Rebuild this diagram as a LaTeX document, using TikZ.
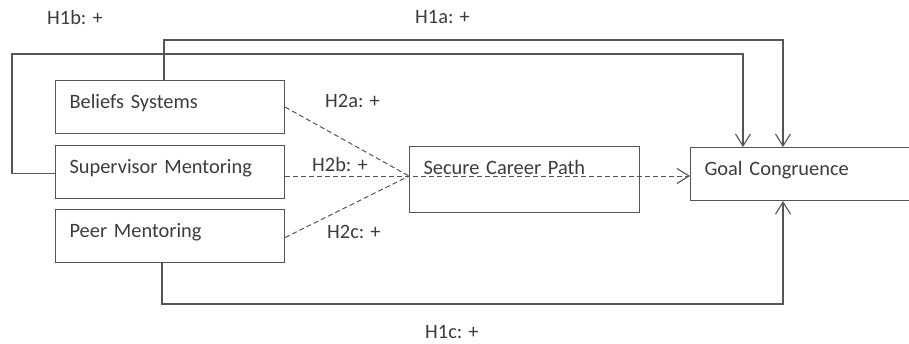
\documentclass[tikz,border=0pt]{standalone}
\usepackage{fontspec}
\setmainfont{Carlito}
\usetikzlibrary{arrows.meta,calc}
\definecolor{linegray}{RGB}{85,85,85}
\definecolor{textgray}{RGB}{60,60,60}
\tikzset{
  box/.style={draw=linegray, line width=1.1pt, rectangle, anchor=north west,
    inner xsep=14pt, inner ysep=0pt, text height=28pt, align=left,
    text=textgray, font=\fontsize{20.4}{24}\selectfont},
  tag/.style={anchor=base west, inner sep=0pt, text=textgray,
    font=\fontsize{20.4}{24}\selectfont},
  link/.style={draw=linegray, line width=1.1pt,
    -{Straight Barb[length=12pt,width=15pt,line width=1.1pt]}},
  plainlink/.style={draw=linegray, line width=1.1pt},
  dashlink/.style={draw=linegray, line width=1pt, dash pattern=on 5pt off 3pt},
}
\begin{document}
\begin{tikzpicture}[x=1pt,y=-1pt]
  \useasboundingbox (0,0) rectangle (909,343);
  \clip (0,0) rectangle (909,343);

  % boxes
  \node[box, text width=201pt, text depth=25pt] (bel)  at (55,80)  {Beliefs Systems};
  \node[box, text width=201pt, text depth=25pt] (sup)  at (55,145) {Supervisor Mentoring};
  \node[box, text width=201pt, text depth=25pt] (peer) at (55,209) {Peer Mentoring};
  \node[box, text width=202pt, text depth=38pt] (car)  at (409,146) {Secure Career Path};
  \node[box, text width=212pt, text depth=25pt] (goal) at (690,147) {Goal Congruence};

  % meeting point of the mediated paths
  \coordinate (cv) at ($(car.north west)+(0,30)$);

  % H1a: beliefs -> goal (over the top)
  \coordinate (a1) at ($(bel.north west)+(109,0)$);
  \coordinate (a2) at ($(goal.north west)+(93,0)$);
  \draw[link] (a1) -- (a1 |- 0,40) -- (a2 |- 0,40) -- (a2);

  % H1b: supervisor -> goal (round the left side)
  \coordinate (b1) at ($(sup.west)+(0,1.5)$);
  \coordinate (b2) at ($(goal.north west)+(53,0)$);
  \draw[link] (b1) -- (12,0 |- b1) -- (12,54) -- (b2 |- 0,54) -- (b2);

  % H1c: peer -> goal (underneath)
  \coordinate (c1) at ($(peer.south west)+(107,0)$);
  \coordinate (c2) at ($(goal.south west)+(93,0)$);
  \draw[link] (c1) -- (c1 |- 0,304) -- (c2 |- 0,304) -- (c2);

  % H2: mediated paths through the career path
  \draw[dashlink] (bel.east) -- (cv);
  \draw[dashlink] ($(peer.east)+(0,1.5)$) -- (cv);
  \draw[dashlink, -{Straight Barb[length=12pt,width=15pt,line width=1.1pt]}]
    (sup.east |- cv) -- (goal.west |- cv);

  % hypothesis labels
  \node[tag] (h1a) at (415,23)  {H1a: +};
  \node[tag] (h1b) at (47,24)   {H1b: +};
  \node[tag] (h1c) at (425,338) {H1c: +};
  \node[tag] (h2a) at (325,107) {H2a: +};
  \node[tag] (h2b) at (312,171) {H2b: +};
  \node[tag] (h2c) at (327,238) {H2c: +};
\end{tikzpicture}
\end{document}
